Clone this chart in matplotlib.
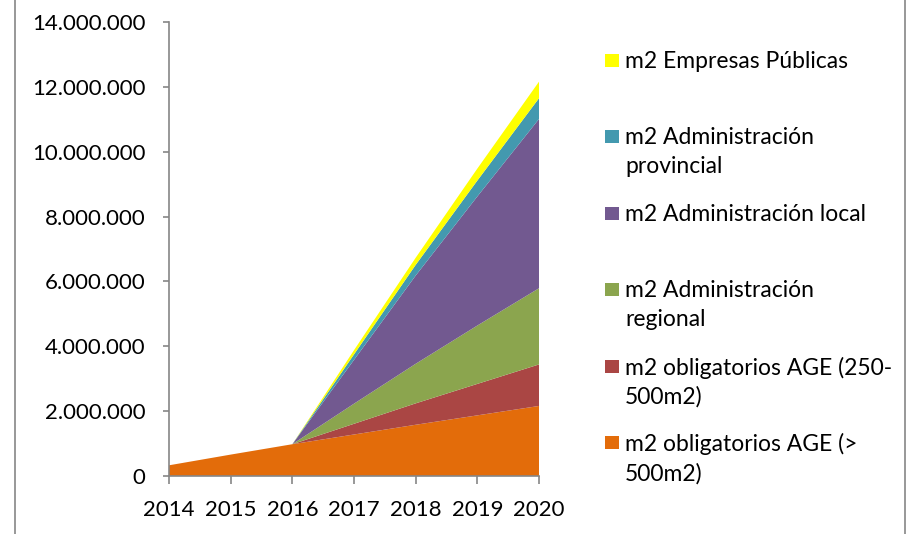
import matplotlib
matplotlib.use("Agg")
from matplotlib import pyplot as plt
from matplotlib.ticker import FuncFormatter
from matplotlib.patches import Rectangle
from matplotlib.lines import Line2D

# Datos (m2)
anios = [2014, 2015, 2016, 2017, 2018, 2019, 2020]
age_mas_500 = [330000, 660000, 980000, 1280000, 1580000, 1870000, 2160000]
age_250_500 = [0, 0, 0, 330000, 660000, 970000, 1280000]
adm_regional = [0, 0, 0, 620000, 1220000, 1800000, 2350000]
adm_local = [0, 0, 0, 1350000, 2720000, 3980000, 5220000]
adm_provincial = [0, 0, 0, 170000, 330000, 490000, 640000]
empresas_publicas = [0, 0, 0, 130000, 220000, 370000, 510000]

series = [age_mas_500, age_250_500, adm_regional, adm_local, adm_provincial, empresas_publicas]
etiquetas = ['m2 obligatorios AGE (>\n500m2)', 'm2 obligatorios AGE (250-\n500m2)',
             'm2 Administración\nregional', 'm2 Administración local',
             'm2 Administración\nprovincial', 'm2 Empresas Públicas']
colores = ['#E36C0A', '#AA4644', '#8BA54E', '#725990', '#4399AF', '#FFFF00']

plt.rcParams['font.family'] = ['Lato', 'DejaVu Sans']
W, H = 915, 534
fig = plt.figure(figsize=(W / 100, H / 100), dpi=100)
ax = fig.add_axes([169 / W, 1 - 476 / H, (539 - 169) / W, (476 - 22) / H])

ax.stackplot(anios, *series, colors=colores, linewidth=0)

ax.set_xlim(2014, 2020)
ax.set_ylim(0, 14000000)
ax.set_xticks(anios)
ax.set_yticks(range(0, 14000001, 2000000))
ax.yaxis.set_major_formatter(FuncFormatter(lambda v, p: f"{int(v):,}".replace(",", ".")))

gris = '#868686'
for s in ['top', 'right']:
    ax.spines[s].set_visible(False)
for s in ['left', 'bottom']:
    ax.spines[s].set_color(gris)
    ax.spines[s].set_linewidth(1.2)
ax.tick_params(axis='both', colors=gris, labelcolor='black', labelsize=16,
               width=1.2, direction='out')
ax.tick_params(axis='y', length=4.5, pad=12.5)
ax.tick_params(axis='x', length=5.5, pad=12)

# Leyenda manual (orden inverso, cuadrado alineado con la primera linea)
for i, (etq, col) in enumerate(zip(etiquetas[::-1], colores[::-1])):
    y = 60 + i * 76.4
    fig.add_artist(Rectangle((605 / W, 1 - (y + 7) / H), 14 / W, 13 / H,
                             transform=fig.transFigure, facecolor=col, edgecolor='none'))
    fig.text(625 / W, 1 - (y - 9) / H, etq, fontsize=16.5, va='top', ha='left',
             linespacing=1.43)

# borde del area del grafico
fig.add_artist(Line2D([15 / W, 15 / W], [0, 1], color=gris, lw=1.2))
fig.add_artist(Line2D([905 / W, 905 / W], [0, 1], color=gris, lw=1.2))

fig.savefig("out.png", dpi=100)
